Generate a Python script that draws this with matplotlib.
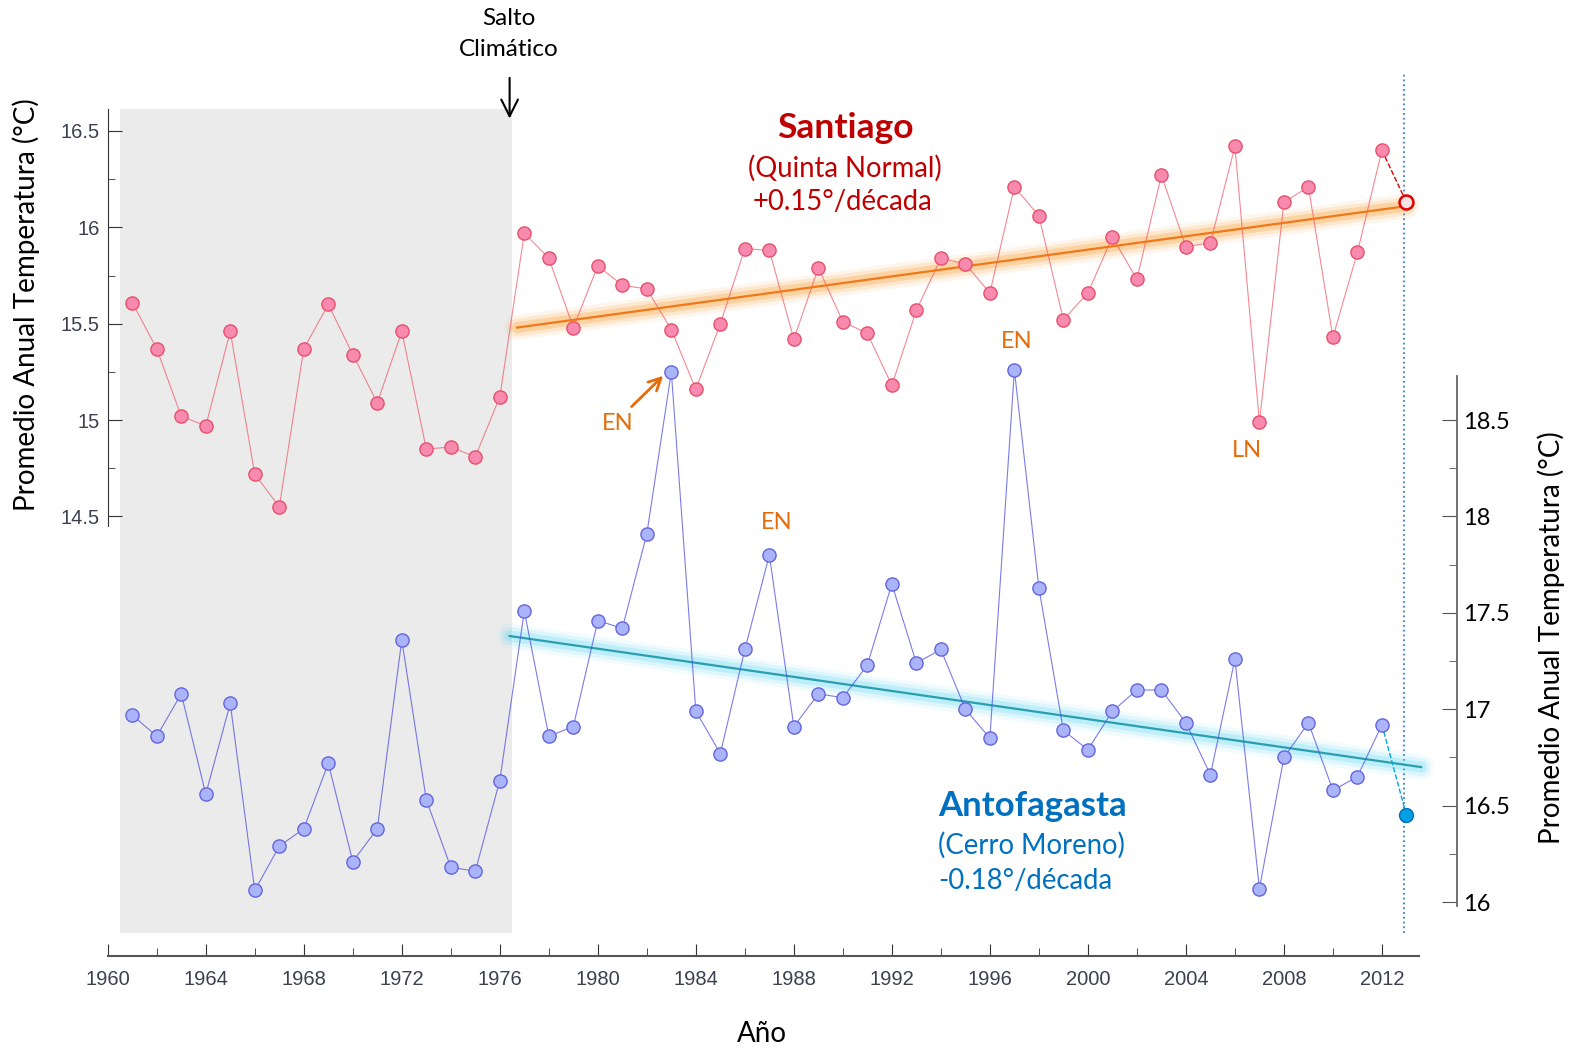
import matplotlib.pyplot as plt

# Promedio anual (°C), 1961-2012
years = list(range(1961, 2013))
santiago = [15.61, 15.37, 15.02, 14.97, 15.46, 14.72, 14.55, 15.37, 15.60, 15.34,
            15.09, 15.46, 14.85, 14.86, 14.81, 15.12, 15.97, 15.84, 15.48, 15.80,
            15.70, 15.68, 15.47, 15.16, 15.50, 15.89, 15.88, 15.42, 15.79, 15.51,
            15.45, 15.18, 15.57, 15.84, 15.81, 15.66, 16.21, 16.06, 15.52, 15.66,
            15.95, 15.73, 16.27, 15.90, 15.92, 16.42, 14.99, 16.13, 16.21, 15.43,
            15.87, 16.40]
antofagasta = [16.97, 16.86, 17.08, 16.56, 17.03, 16.06, 16.29, 16.38, 16.72, 16.21,
               16.38, 17.36, 16.53, 16.18, 16.16, 16.63, 17.51, 16.86, 16.91, 17.46,
               17.42, 17.91, 18.75, 16.99, 16.77, 17.31, 17.80, 16.91, 17.08, 17.06,
               17.23, 17.65, 17.24, 17.31, 17.00, 16.85, 18.76, 17.63, 16.89, 16.79,
               16.99, 17.10, 17.10, 16.93, 16.66, 17.26, 16.07, 16.75, 16.93, 16.58,
               16.65, 16.92]

# 2013 (parcial)
year_last = 2013
santiago_last = 16.13
antofagasta_last = 16.45

# tendencias 1977-2013
trend_x_stgo = [1976.7, 2013.0]
trend_stgo = [15.48, 16.11]
trend_x_anto = [1976.4, 2013.6]
trend_anto = [17.38, 16.70]

# salto climatico
salto_year = 1976.4
gray_span = [1960.5, 1976.5]

# eventos EN / LN (año, valor eje izquierdo)
events = ['EN', 'EN', 'EN', 'LN']
events_x = [1980.8, 1987.3, 1997.1, 2006.5]
events_y = [14.98, 14.47, 15.41, 14.84]

RED = '#c00000'
BLUE = '#0070c0'
ORANGE = '#e46c0a'
CAL = ['Lato', 'DejaVu Sans']

W, H = 1568, 1042
fig = plt.figure(figsize=(15.79, 10.49), dpi=100)
ax = fig.add_axes([107 / W, 1 - 950 / H, (1447 - 107) / W, (950 - 60) / H])
ax.set_xlim(1960, 2015.07)
ax.set_ylim(12.218, 16.866)
ax2 = ax.twinx()
ax2.set_ylim(12.218 + 3.5, 16.866 + 3.5)

# zona gris previa al salto
ax.fill_between(gray_span, 12.338, 16.615, color='#ebebeb', lw=0, zorder=0)
ax.plot([2012.9, 2012.9], [12.338, 16.80], ls=':', color='#3a7dc8', lw=1.3, zorder=1)

# Santiago
ax.plot(years, santiago, '-', color='#f06070', lw=0.8, alpha=0.75, zorder=3)
ax.plot(years, santiago, 'o', ms=9.5, mfc='#f88ab0', mec='#e8506a', mew=1, zorder=4)
ax.plot([years[-1], year_last], [santiago[-1], santiago_last], '--', color='#e00000', lw=1, zorder=3)
ax.plot([year_last], [santiago_last], 'o', ms=10, mfc='#f5e1e1', mec='#e00000', mew=1.8, zorder=5)
for lw, a in [(18, 0.08), (13, 0.14), (8, 0.25)]:
    ax.plot(trend_x_stgo, trend_stgo, color='#f7941d', lw=lw, alpha=a, solid_capstyle='round', zorder=2)
ax.plot(trend_x_stgo, trend_stgo, color='#f07818', lw=1.6, zorder=3)

# Antofagasta
for lw, a in [(18, 0.08), (13, 0.14), (8, 0.25)]:
    ax2.plot(trend_x_anto, trend_anto, color='#5fd8f5', lw=lw, alpha=a, solid_capstyle='round', zorder=2)
ax2.plot(trend_x_anto, trend_anto, color='#2a9fb0', lw=1.6, zorder=3)
ax2.plot(years, antofagasta, '-', color='#5050e0', lw=0.8, alpha=0.75, zorder=3)
ax2.plot(years, antofagasta, 'o', ms=9.5, mfc='#aab4f8', mec='#6464e0', mew=1, zorder=4)
ax2.plot([years[-1], year_last], [antofagasta[-1], antofagasta_last], '--', color='#00a8e0', lw=1, zorder=3)
ax2.plot([year_last], [antofagasta_last], 'o', ms=10, mfc='#00a0e6', mec='#0070b0', mew=1, zorder=5)

# ejes
for s in ['top', 'right']:
    ax.spines[s].set_visible(False)
for s in ['top', 'left', 'bottom']:
    ax2.spines[s].set_visible(False)
ax.spines['left'].set_bounds(14.45, 16.615)
ax.spines['bottom'].set_bounds(1960, 2013.5)
ax2.spines['right'].set_bounds(15.98, 18.73)
ax.spines['left'].set_color('#333333')
ax.spines['bottom'].set_color('#555555')
ax.spines['bottom'].set_linewidth(1.5)
ax2.spines['right'].set_color('#666666')
ax2.spines['right'].set_linewidth(1.3)

ax.set_yticks([14.5, 15, 15.5, 16, 16.5], ['14.5', '15', '15.5', '16', '16.5'])
ax.set_yticks([14.75, 15.25, 15.75, 16.25], minor=True)
ax2.set_yticks([16, 16.5, 17, 17.5, 18, 18.5], ['16', '16.5', '17', '17.5', '18', '18.5'])
ax2.set_yticks([16.25, 16.75, 17.25, 17.75, 18.25], minor=True)
ax.set_xticks(list(range(1960, 2013, 4)))
ax.set_xticks(list(range(1962, 2013, 4)), minor=True)

ax.tick_params(axis='y', which='major', direction='in', length=10, pad=6, labelsize=14.5,
               labelcolor='#3c4050', color='#333333')
ax.tick_params(axis='y', which='minor', direction='in', length=5, color='#333333')
ax.tick_params(axis='x', which='major', direction='in', length=9, pad=9.5, labelsize=14.5,
               labelcolor='#3c4050', color='#333333')
ax.tick_params(axis='x', which='minor', direction='in', length=6, color='#333333')
ax2.tick_params(axis='y', which='major', direction='in', length=11, pad=4, labelsize=17, color='#555555')
ax2.tick_params(axis='y', which='minor', direction='in', length=6, color='#555555')
for t in ax.get_xticklabels() + ax.get_yticklabels():
    t.set_family('Liberation Sans')
for t in ax2.get_yticklabels():
    t.set_family(CAL)

fig.text(26 / W, 1 - 303 / H, 'Promedio Anual Temperatura (°C)', rotation=90, ha='center', va='center',
         fontsize=20, family=CAL)
fig.text(1540 / W, 1 - 633 / H, 'Promedio Anual Temperatura (°C)', rotation=90, ha='center', va='center',
         fontsize=20, family=CAL)
fig.text(757 / W, 1 - 1027 / H, 'Año', ha='center', va='center', fontsize=20, family=CAL)

# textos
fig.text(505 / W, 1 - 18 / H, 'Salto', ha='center', va='center', fontsize=17.5, family=CAL)
fig.text(505 / W, 1 - 49 / H, 'Climático', ha='center', va='center', fontsize=17.5, family=CAL)
ax.annotate('', xy=(salto_year, 16.55), xytext=(salto_year, 16.79),
            arrowprops=dict(arrowstyle='->', lw=1.5, color='black', mutation_scale=30))

ax.text(1990.1, 16.516, 'Santiago', color=RED, fontsize=25.5, weight='bold', ha='center', va='center', family=CAL)
ax.text(1990.1, 16.307, '(Quinta Normal)', color=RED, fontsize=19.8, ha='center', va='center', family=CAL)
ax.text(1990.0, 16.129, '+0.15°/década', color=RED, fontsize=19.8, ha='center', va='center', family=CAL)

ax.text(1993.9, 13.0, 'Antofagasta', color=BLUE, fontsize=25, weight='bold', ha='left', va='center', family=CAL)
ax.text(1993.9, 12.792, '(Cerro Moreno)', color=BLUE, fontsize=19.8, ha='left', va='center', family=CAL)
ax.text(1993.9, 12.61, '-0.18°/década', color=BLUE, fontsize=19.8, ha='left', va='center', family=CAL)

for lab, x, y in zip(events, events_x, events_y):
    ax.text(x, y, lab, color=ORANGE, fontsize=17, ha='center', va='center', family=CAL)
ax.annotate('', xy=(1982.75, 15.24), xytext=(1981.3, 15.06),
            arrowprops=dict(arrowstyle='->', lw=2, color=ORANGE, mutation_scale=22))

fig.savefig('out.png', dpi=100)
